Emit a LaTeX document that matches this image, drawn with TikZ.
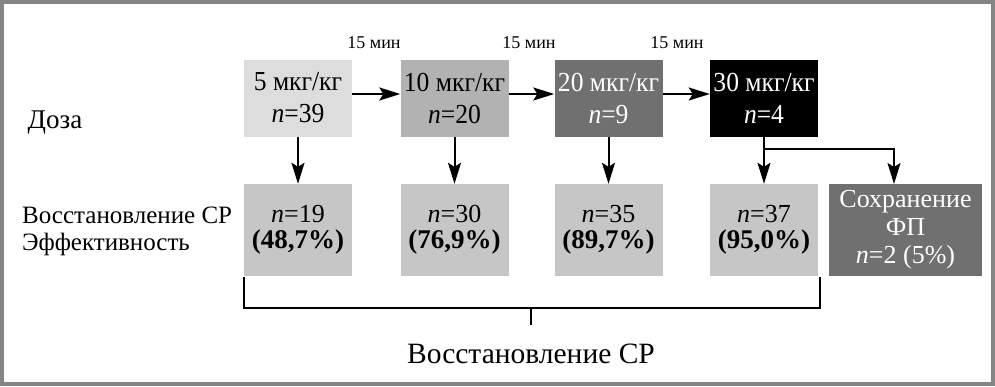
\documentclass[tikz,border=0pt]{standalone}
\usepackage{fontspec}
\setmainfont{Liberation Serif}
\newfontfamily\condfont[FakeStretch=0.93]{Liberation Serif}
\usetikzlibrary{arrows.meta}
\definecolor{framegray}{HTML}{858585}
\definecolor{c1}{HTML}{DDDDDD}
\definecolor{c2}{HTML}{B2B2B2}
\definecolor{c3}{HTML}{707070}
\definecolor{cb}{HTML}{C6C6C6}
\begin{document}
\begin{tikzpicture}[x=1pt,y=-1pt,
  topbox/.style={minimum width=108pt, minimum height=77pt, inner sep=0pt, align=center, font=\condfont\fontsize{27.5}{32}\selectfont},
  botbox/.style={fill=cb, minimum width=108pt, minimum height=92pt, inner sep=0pt, align=center, font=\fontsize{26}{26}\selectfont},
  arr/.style={-{Stealth[length=21pt,width=13pt,inset=4pt]}, line width=2pt},
  lbl/.style={font=\fontsize{25}{29}\selectfont, inner sep=0pt},
  mins/.style={font=\fontsize{18}{20}\selectfont, inner sep=0pt}]
\useasboundingbox (0,0) rectangle (995,386);
\fill[framegray] (0,0) rectangle (995,386);
\fill[white] (4,4) rectangle (991,382);

% top row
\node[topbox, fill=c1] (t1) at (298,98) {5 мкг/кг\\\textit{n}=39};
\node[topbox, fill=c2] (t2) at (454.5,98) {10 мкг/кг\\\textit{n}=20};
\node[topbox, fill=c3, text=white] (t3) at (608.5,98) {20 мкг/кг\\\textit{n}=9};
\node[topbox, fill=black, text=white] (t4) at (764,98) {30 мкг/кг\\\textit{n}=4};

\node[mins] (m1) at (374,43) {15 мин};
\node[mins] (m2) at (529,43) {15 мин};
\node[mins] (m3) at (677,43) {15 мин};

\draw[arr] (t1.east |- 0,94) -- (t2.west |- 0,94);
\draw[arr] (t2.east |- 0,94) -- (t3.west |- 0,94);
\draw[arr] (t3.east |- 0,94) -- (t4.west |- 0,94);

% bottom row
\node[botbox] (b1) at (298,230) {\textit{n}=19\\\fontsize{27}{27}\selectfont\textbf{(48,7\%)}};
\node[botbox] (b2) at (454.5,230) {\textit{n}=30\\\fontsize{27}{27}\selectfont\textbf{(76,9\%)}};
\node[botbox] (b3) at (608.5,230) {\textit{n}=35\\\fontsize{27}{27}\selectfont\textbf{(89,7\%)}};
\node[botbox] (b4) at (764,230) {\textit{n}=37\\\fontsize{27}{27}\selectfont\textbf{(95,0\%)}};
\node[botbox, fill=c3, text=white, minimum width=153pt, font=\fontsize{26}{28}\selectfont] (fp) at (905.5,230) {Сохранение\\ФП\\\textit{n}=2 (5\%)};

\draw[arr] (t1) -- (b1);
\draw[arr] (t2) -- (b2);
\draw[arr] (t3) -- (b3);
\draw[arr] (t4) -- (b4);
\coordinate (br) at (764,149);
\coordinate (fpin) at (894,184);
\draw[arr, line width=1.6pt] (br) -| (fpin);

% labels
\node[lbl, font=\fontsize{27}{30}\selectfont] (doza) at (55,123) {Доза};
\node[lbl, anchor=west] (vos) at (22,215) {Восстановление СР};
\node[lbl, anchor=west] (eff) at (22,244) {Эффективность};

% bracket
\coordinate (bl) at (244,277);
\coordinate (brr) at (820,277);
\draw[line width=1.1pt] (bl) -- (244,308) -- (820,308) -- (brr);
\coordinate (mid) at (531,308);
\draw[line width=1.1pt] (mid) -- (531,325);
\node[font=\fontsize{29.5}{32}\selectfont, inner sep=0pt] (bottom) at (531,354) {Восстановление СР};
\end{tikzpicture}
\end{document}
